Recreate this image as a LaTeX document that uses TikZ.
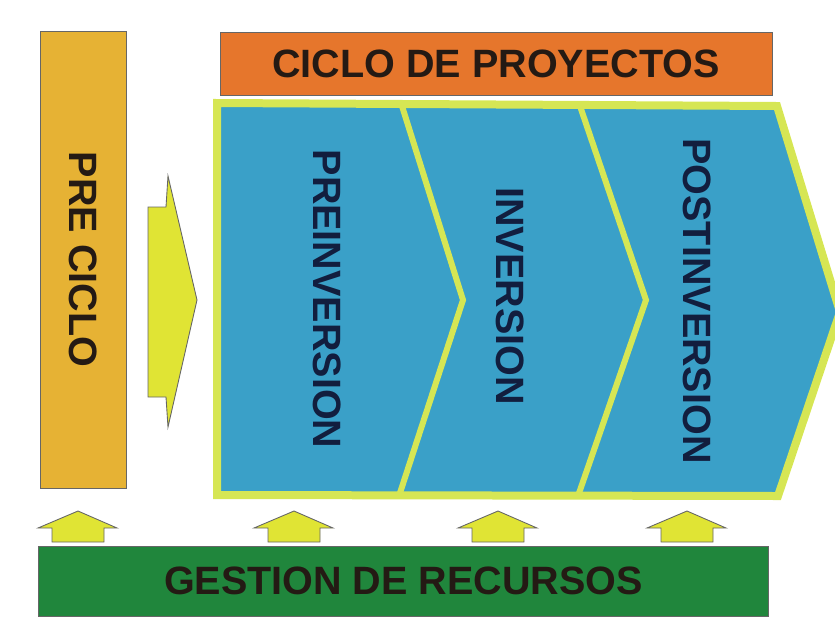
\documentclass[tikz,border=0pt]{standalone}
\usepackage{fontspec}
\setmainfont{Liberation Sans}
\usepackage{tikz}
\usetikzlibrary{positioning}

\definecolor{preciclo}{RGB}{230,178,52}
\definecolor{ciclo}{RGB}{230,118,44}
\definecolor{fase}{RGB}{58,160,200}
\definecolor{lima}{RGB}{214,230,84}
\definecolor{flecha}{RGB}{224,228,52}
\definecolor{recursos}{RGB}{32,134,60}
\definecolor{tinta}{RGB}{36,26,20}
\definecolor{tintaazul}{RGB}{18,30,62}

\begin{document}
\begin{tikzpicture}[x=0.02cm, y=-0.02cm,
    rotulo/.style={font=\fontsize{22.5}{27}\selectfont\bfseries, text=tinta, inner sep=0pt},
    bar/.style={rotulo, draw=black!60, line width=0.5pt},
    etapa/.style={rotulo, text=tintaazul, rotate=-90},
    flechita/.style={fill=flecha, draw=black!60, line width=0.5pt, line join=miter}]
\useasboundingbox (0,0) rectangle (835,643);

% barras
\node (pre) [bar, fill=preciclo, rotate=-90, minimum width=9.14cm, minimum height=1.72cm] at (83,259.5) {PRE CICLO};
\node (ciclo) [bar, fill=ciclo, minimum width=11.04cm, minimum height=1.26cm] at (496,63.5) {CICLO DE PROYECTOS};
\node (gestion) [bar, fill=recursos, minimum width=14.62cm, minimum height=1.4cm] at (403.5,581) {GESTION DE RECURSOS};

% flecha grande
\draw[flechita] (148,207) -- (166,207) -- (168,176) -- (197,300) -- (168,427) -- (166,397) -- (148,397) -- cycle;

% fases
\draw[fill=fase, draw=lima, line width=0.16cm, line join=miter]
  (217,103) -- (777,106) -- (840,312) -- (778,496) -- (217,495) -- cycle;
\foreach \a/\b/\c in {402/463/399, 580/646/578}
  \draw[lima, line width=0.12cm] (\a,106) -- (\b,300) -- (\c,496);

\node (preinv) [etapa] at (327,299) {PREINVERSION};
\node (inv) [etapa] at (510,296) {INVERSION};
\node (postinv) [etapa] at (697,301) {POSTINVERSION};

% flechas de recursos
\foreach \c in {78,294,498,687}
  \draw[flechita] (\c-40,528) -- (\c,511) -- (\c+39,528) -- (\c+26,528) -- (\c+26,542)
    -- (\c-26,542) -- (\c-26,528) -- cycle;

\end{tikzpicture}
\end{document}
